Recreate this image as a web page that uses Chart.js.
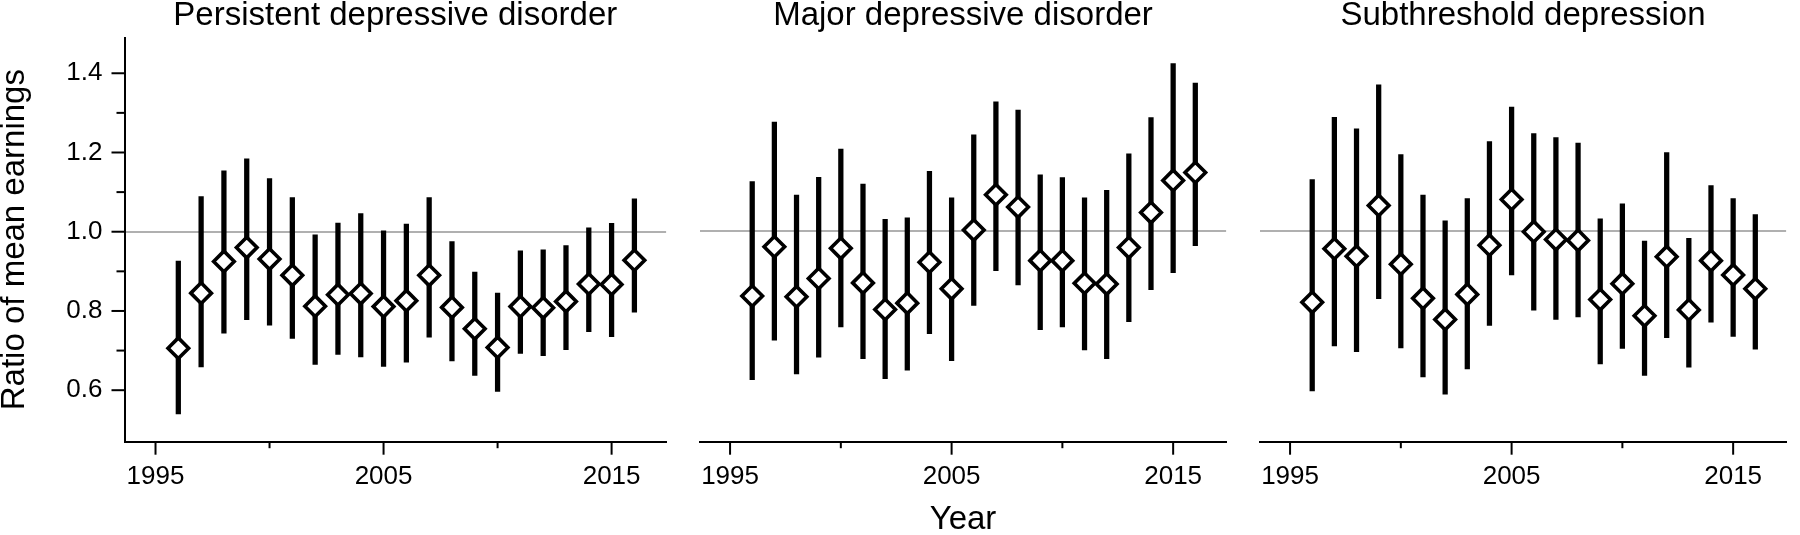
<!DOCTYPE html>
<html>
<head>
<meta charset="utf-8">
<script src="https://cdn.jsdelivr.net/npm/chart.js@4.4.1/dist/chart.umd.min.js"></script>
<style>
  body { margin: 0; background: #fff; width: 1800px; height: 535px; position: relative; overflow: hidden; }
  canvas { position: absolute; top: 0; }
</style>
</head>
<body>
<canvas id="c1" width="680" height="535" style="left:0px"></canvas>
<canvas id="c2" width="560" height="535" style="left:680px"></canvas>
<canvas id="c3" width="560" height="535" style="left:1240px"></canvas>
<script>
// years of the survey
var years = [1996, 1997, 1998, 1999, 2000, 2001, 2002, 2003, 2004, 2005, 2006,
             2007, 2008, 2009, 2010, 2011, 2012, 2013, 2014, 2015, 2016];

// persistent depressive disorder
var pddMean = [0.706, 0.845, 0.925, 0.960, 0.931, 0.890, 0.812, 0.841, 0.844, 0.811, 0.826,
               0.890, 0.809, 0.755, 0.708, 0.811, 0.808, 0.824, 0.868, 0.867, 0.928];
var pddLow  = [0.540, 0.659, 0.744, 0.778, 0.764, 0.731, 0.665, 0.690, 0.684, 0.660, 0.671,
               0.734, 0.674, 0.637, 0.597, 0.693, 0.687, 0.702, 0.748, 0.735, 0.797];
var pddHigh = [0.926, 1.089, 1.154, 1.184, 1.134, 1.086, 0.992, 1.022, 1.046, 1.002, 1.019,
               1.086, 0.975, 0.898, 0.845, 0.952, 0.954, 0.965, 1.010, 1.021, 1.083];

// major depressive disorder
var mddMean = [0.837, 0.961, 0.835, 0.881, 0.957, 0.870, 0.803, 0.819, 0.922, 0.855, 1.003,
               1.092, 1.061, 0.926, 0.926, 0.869, 0.867, 0.959, 1.047, 1.128, 1.148];
var mddLow  = [0.626, 0.726, 0.641, 0.683, 0.759, 0.679, 0.629, 0.650, 0.742, 0.674, 0.813,
               0.901, 0.865, 0.752, 0.759, 0.701, 0.679, 0.772, 0.853, 0.896, 0.964];
var mddHigh = [1.125, 1.275, 1.091, 1.136, 1.207, 1.119, 1.030, 1.034, 1.151, 1.084, 1.243,
               1.326, 1.305, 1.142, 1.135, 1.084, 1.103, 1.195, 1.286, 1.422, 1.373];

// subthreshold depression
var sdMean = [0.821, 0.956, 0.937, 1.065, 0.917, 0.831, 0.778, 0.841, 0.965, 1.080, 0.999,
              0.979, 0.977, 0.828, 0.868, 0.787, 0.936, 0.802, 0.926, 0.890, 0.855];
var sdLow  = [0.598, 0.711, 0.697, 0.830, 0.706, 0.633, 0.590, 0.653, 0.763, 0.890, 0.801,
              0.778, 0.784, 0.666, 0.705, 0.637, 0.732, 0.658, 0.771, 0.735, 0.703];
var sdHigh = [1.130, 1.287, 1.258, 1.369, 1.193, 1.091, 1.026, 1.082, 1.226, 1.313, 1.246,
              1.236, 1.222, 1.031, 1.069, 0.975, 1.198, 0.982, 1.115, 1.082, 1.042];

var panelTitles = ["Persistent depressive disorder", "Major depressive disorder", "Subthreshold depression"];
var xTickYears = [1995, 2000, 2005, 2010, 2015];
var xLabelYears = [1995, 2005, 2015];
var yTickValues = [0.6, 0.7, 0.8, 0.9, 1.0, 1.1, 1.2, 1.3, 1.4];
var yLabelValues = [0.6, 0.8, 1.0, 1.2, 1.4];
var refValue = 1.0;

var FONT = "'Liberation Sans', Arial, Helvetica, sans-serif";
Chart.defaults.font.family = FONT;
Chart.defaults.color = "#000";

function isIn(list, v) {
    return list.some(function (a) { return Math.abs(a - v) < 1e-9; });
}

// tick marks with two lengths (major / minor)
var tickMarks = {
    id: "tickMarks",
    afterDraw: function (chart, args, opts) {
        var ctx = chart.ctx;
        var xs = chart.scales.x, ys = chart.scales.y;
        ctx.save();
        ctx.strokeStyle = "#000";
        ctx.lineWidth = 2;
        xs.ticks.forEach(function (t) {
            var px = xs.getPixelForValue(t.value);
            var len = isIn(xLabelYears, t.value) ? 13 : 6.5;
            ctx.beginPath();
            ctx.moveTo(px, xs.top);
            ctx.lineTo(px, xs.top + len);
            ctx.stroke();
        });
        if (opts.showY) {
            ys.ticks.forEach(function (t) {
                var py = ys.getPixelForValue(t.value);
                var len = isIn(yLabelValues, t.value) ? 13 : 8;
                ctx.beginPath();
                ctx.moveTo(ys.right, py);
                ctx.lineTo(ys.right - len, py);
                ctx.stroke();
            });
        }
        ctx.restore();
    }
};

function makePanel(id, title, mean, low, high, o) {
    var bars = years.map(function (y, i) { return { x: y, y: [low[i], high[i]] }; });
    var pts = years.map(function (y, i) { return { x: y, y: mean[i] }; });

    return new Chart(document.getElementById(id), {
        type: "scatter",
        data: {
            datasets: [
                {
                    type: "bar",
                    data: bars,
                    backgroundColor: "#000",
                    borderWidth: 0,
                    barThickness: 4.6,
                    order: 2
                },
                {
                    type: "scatter",
                    data: pts,
                    pointStyle: "rectRot",
                    pointRadius: 10.3,
                    pointBorderWidth: 3.6,
                    pointBackgroundColor: "#fff",
                    pointBorderColor: "#000",
                    order: 1
                }
            ]
        },
        options: {
            responsive: false,
            animation: false,
            events: [],
            layout: { padding: { left: 0, right: o.rightPad, top: 0, bottom: 0 } },
            plugins: {
                legend: { display: false },
                tooltip: { enabled: false },
                title: {
                    display: true,
                    text: title,
                    fullSize: false,
                    color: "#000",
                    font: { size: 33, weight: "normal", lineHeight: 1 },
                    padding: { top: -1, bottom: 4.7 }
                },
                tickMarks: { showY: o.showY }
            },
            scales: {
                x: {
                    type: "linear",
                    min: 1993.64,
                    max: 2017.39,
                    offset: false,
                    afterBuildTicks: function (s) {
                        s.ticks = xTickYears.map(function (v) { return { value: v }; });
                    },
                    afterFit: function (s) { s.height = 93.3; },
                    grid: { display: false, offset: false, drawTicks: false },
                    border: { display: true, color: "#000", width: 2 },
                    ticks: {
                        padding: 20,
                        maxRotation: 0,
                        autoSkip: false,
                        font: { size: 26 },
                        callback: function (v) { return isIn(xLabelYears, v) ? String(v) : ""; }
                    },
                    title: {
                        display: !!o.xTitle,
                        text: o.xTitle || "",
                        font: { size: 33, lineHeight: 1 },
                        padding: { top: 0, bottom: -1.8 }
                    }
                },
                y: {
                    type: "linear",
                    min: 0.47,
                    max: 1.49,
                    afterBuildTicks: function (s) {
                        s.ticks = yTickValues.map(function (v) { return { value: v }; });
                    },
                    afterFit: function (s) { s.width = o.yWidth; },
                    grid: {
                        drawTicks: false,
                        lineWidth: 2,
                        color: function (c) {
                            return c.tick && Math.abs(c.tick.value - refValue) < 1e-9 ? "#b0b0b0" : "rgba(0,0,0,0)";
                        }
                    },
                    border: { display: o.showY, color: "#000", width: 2 },
                    ticks: {
                        display: o.showY,
                        padding: 22,
                        autoSkip: false,
                        font: { size: 26 },
                        callback: function (v) { return isIn(yLabelValues, v) ? v.toFixed(1) : ""; }
                    },
                    title: {
                        display: !!o.yTitle,
                        text: o.yTitle || "",
                        font: { size: 33, lineHeight: 1 },
                        padding: { top: -2, bottom: 0 }
                    }
                }
            }
        },
        plugins: [tickMarks]
    });
}

makePanel("c1", panelTitles[0], pddMean, pddLow, pddHigh,
    { yWidth: 124.5, rightPad: 7.5, showY: true, yTitle: "Ratio of mean earnings" });
makePanel("c2", panelTitles[1], mddMean, mddLow, mddHigh,
    { yWidth: 5.6, rightPad: 5.2, showY: false, xTitle: "Year" });
makePanel("c3", panelTitles[2], sdMean, sdLow, sdHigh,
    { yWidth: 7.8, rightPad: 3.2, showY: false });
</script>
</body>
</html>
